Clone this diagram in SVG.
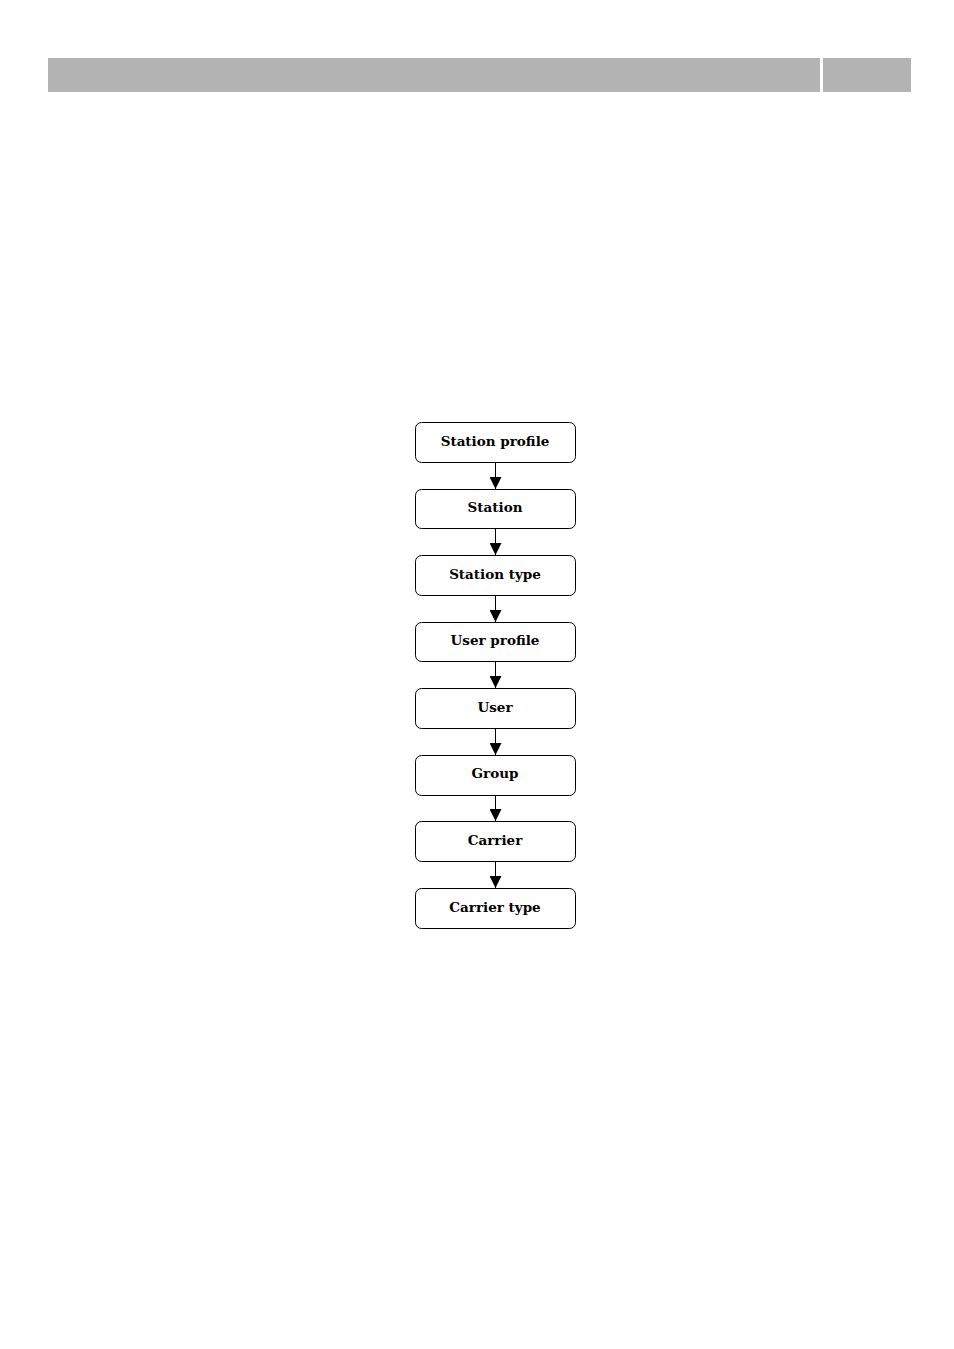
<svg xmlns="http://www.w3.org/2000/svg" width="954" height="1349" viewBox="0 0 954 1349">
<style>
.box{fill:#fff;stroke:#000;stroke-width:1}
.lbl{font-family:"DejaVu Serif","Liberation Serif",serif;font-weight:bold;font-size:13.5px;text-anchor:middle;fill:#000}
.con{stroke:#000;stroke-width:1;fill:none}
</style>
<defs>
<marker id="ah" markerWidth="12" markerHeight="12" refX="12" refY="6" orient="auto" markerUnits="userSpaceOnUse">
<path d="M0,0 L12,6 L0,12 Z" fill="#000"/>
</marker>
</defs>
<rect width="954" height="1349" fill="#fff"/>
<g id="header">
<rect x="48" y="58" width="772" height="34" fill="#b3b3b3"/>
<rect x="823" y="58" width="88" height="34" fill="#b3b3b3"/>
</g>
<g id="n1"><rect class="box" x="415.5" y="422.5" width="160" height="40" rx="6"/><text class="lbl" x="495" y="446">Station profile</text></g>
<g id="n2"><rect class="box" x="415.5" y="489.5" width="160" height="39" rx="6"/><text class="lbl" x="495" y="512">Station</text></g>
<g id="n3"><rect class="box" x="415.5" y="555.5" width="160" height="40" rx="6"/><text class="lbl" x="495" y="579">Station type</text></g>
<g id="n4"><rect class="box" x="415.5" y="622.5" width="160" height="39" rx="6"/><text class="lbl" x="495" y="645">User profile</text></g>
<g id="n5"><rect class="box" x="415.5" y="688.5" width="160" height="40" rx="6"/><text class="lbl" x="495" y="712">User</text></g>
<g id="n6"><rect class="box" x="415.5" y="755.5" width="160" height="40" rx="6"/><text class="lbl" x="495" y="778">Group</text></g>
<g id="n7"><rect class="box" x="415.5" y="821.5" width="160" height="40" rx="6"/><text class="lbl" x="495" y="845">Carrier</text></g>
<g id="n8"><rect class="box" x="415.5" y="888.5" width="160" height="40" rx="6"/><text class="lbl" x="495" y="912">Carrier type</text></g>
<g id="connectors">
<line class="con" x1="495.5" y1="463" x2="495.5" y2="489" marker-end="url(#ah)"/>
<line class="con" x1="495.5" y1="529" x2="495.5" y2="555" marker-end="url(#ah)"/>
<line class="con" x1="495.5" y1="596" x2="495.5" y2="622" marker-end="url(#ah)"/>
<line class="con" x1="495.5" y1="662" x2="495.5" y2="688" marker-end="url(#ah)"/>
<line class="con" x1="495.5" y1="729" x2="495.5" y2="755" marker-end="url(#ah)"/>
<line class="con" x1="495.5" y1="796" x2="495.5" y2="821" marker-end="url(#ah)"/>
<line class="con" x1="495.5" y1="862" x2="495.5" y2="888" marker-end="url(#ah)"/>
</g>
</svg>
